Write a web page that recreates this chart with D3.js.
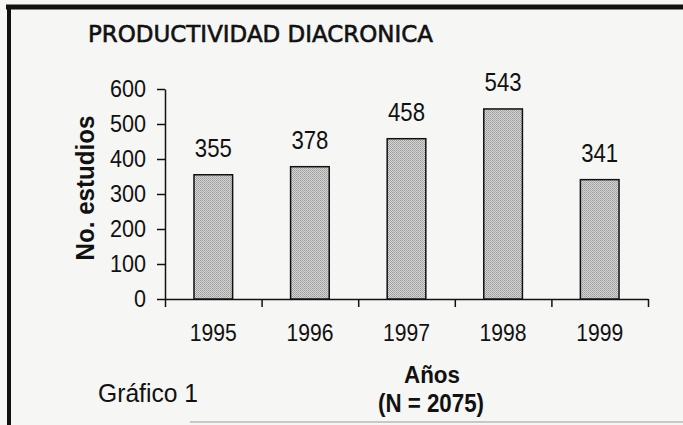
<!DOCTYPE html>
<html>
<head>
<meta charset="utf-8">
<script src="https://cdn.jsdelivr.net/npm/d3@7"></script>
<style>
  body { margin: 0; background: #f6f6f4; }
  text { fill: #111; }
</style>
</head>
<body>
<script>
var years = ["1995", "1996", "1997", "1998", "1999"];
var studies = [355, 378, 458, 543, 341];
var yTicks = [0, 100, 200, 300, 400, 500, 600];

var w = 683, h = 425;
var svg = d3.select("body").append("svg")
  .attr("width", w).attr("height", h);

// stipple fill for the bars
var defs = svg.append("defs");
var pat = defs.append("pattern").attr("id", "dots")
  .attr("width", 2).attr("height", 2).attr("patternUnits", "userSpaceOnUse");
pat.append("rect").attr("width", 2).attr("height", 2).attr("fill", "#d6d6d6");
pat.append("rect").attr("width", 1).attr("height", 1).attr("fill", "#9a9a9a");
pat.append("rect").attr("x", 1).attr("y", 1).attr("width", 1).attr("height", 1).attr("fill", "#a8a8a8");

svg.append("rect").attr("width", w).attr("height", h).attr("fill", "#f6f6f4");

// frame
svg.append("line").attr("x1", 6).attr("x2", w).attr("y1", 7).attr("y2", 7)
  .attr("stroke", "#111").attr("stroke-width", 5);
svg.append("line").attr("x1", 9).attr("x2", 9).attr("y1", 5).attr("y2", h)
  .attr("stroke", "#111").attr("stroke-width", 4);
svg.append("line").attr("x1", 190).attr("x2", w).attr("y1", 422).attr("y2", 422)
  .attr("stroke", "#9a9a9a").attr("stroke-width", 1.2);

var pLeft = 165, pRight = 648, pTop = 89, pBottom = 299;

var x = d3.scaleBand().domain(years).range([pLeft, pRight]).paddingInner(0.6).paddingOuter(0.3);
var xb = d3.scaleLinear().domain([0, years.length]).range([pLeft, pRight]);
var y = d3.scaleLinear().domain([0, 600]).range([pBottom, pTop]);

var numFont = "Liberation Sans, Arial, sans-serif";

// y axis
var ya = svg.append("g").attr("transform", "translate(" + pLeft + ",0)")
  .call(d3.axisLeft(y).tickValues(yTicks).tickSizeInner(8).tickSizeOuter(0).tickPadding(11));
ya.select(".domain").attr("stroke", "#111").attr("stroke-width", 1.5);
ya.selectAll(".tick line").attr("stroke", "#111").attr("stroke-width", 1.5);
ya.selectAll("text").attr("font-family", numFont)
  .attr("font-size", 23).attr("fill", "#111")
  .attr("textLength", function(d) { return String(d).length * 12; })
  .attr("lengthAdjust", "spacingAndGlyphs");

// x axis: ticks at band boundaries
var xt = svg.append("g").attr("transform", "translate(0," + pBottom + ")")
  .call(d3.axisBottom(xb).tickValues(d3.range(years.length + 1)).tickFormat("").tickSizeInner(8).tickSizeOuter(0));
xt.select(".domain").attr("stroke", "#111").attr("stroke-width", 1.5);
xt.selectAll(".tick line").attr("stroke", "#111").attr("stroke-width", 1.5);

// x labels
var xa = svg.append("g").attr("transform", "translate(0," + pBottom + ")")
  .call(d3.axisBottom(x).tickSize(0).tickPadding(25));
xa.select(".domain").remove();
xa.selectAll("text").attr("font-family", numFont)
  .attr("font-size", 24).attr("fill", "#111")
  .attr("textLength", 47).attr("lengthAdjust", "spacingAndGlyphs");

// bars
svg.selectAll(".bar").data(studies).enter().append("rect")
  .attr("class", "bar")
  .attr("x", function(d, i) { return x(years[i]); })
  .attr("width", x.bandwidth())
  .attr("y", function(d) { return y(d); })
  .attr("height", function(d) { return pBottom - y(d); })
  .attr("fill", "url(#dots)")
  .attr("stroke", "#111").attr("stroke-width", 1.5);

svg.selectAll(".val").data(studies).enter().append("text")
  .attr("class", "val")
  .attr("x", function(d, i) { return x(years[i]) + x.bandwidth() / 2; })
  .attr("y", function(d) { return y(d) - 18; })
  .attr("text-anchor", "middle")
  .attr("font-family", numFont)
  .attr("font-size", 25)
  .attr("textLength", 37).attr("lengthAdjust", "spacingAndGlyphs")
  .text(function(d) { return d; });

// title
svg.append("text").attr("x", 88).attr("y", 42)
  .attr("font-family", "DejaVu Sans, Verdana, sans-serif")
  .attr("font-size", 23)
  .attr("stroke", "#111").attr("stroke-width", 0.6)
  .attr("textLength", 345).attr("lengthAdjust", "spacingAndGlyphs")
  .text("PRODUCTIVIDAD DIACRONICA");

// y label
svg.append("text")
  .attr("transform", "translate(94,188) rotate(-90)")
  .attr("text-anchor", "middle")
  .attr("font-family", "Liberation Sans, Arial, sans-serif")
  .attr("font-size", 26).attr("font-weight", "bold")
  .attr("textLength", 145).attr("lengthAdjust", "spacingAndGlyphs")
  .text("No. estudios");

// x label
svg.append("text").attr("x", 432).attr("y", 383)
  .attr("text-anchor", "middle")
  .attr("font-family", "Liberation Sans, Arial, sans-serif")
  .attr("font-size", 23).attr("font-weight", "bold")
  .attr("textLength", 56).attr("lengthAdjust", "spacingAndGlyphs")
  .text("Años");
svg.append("text").attr("x", 431).attr("y", 412)
  .attr("text-anchor", "middle")
  .attr("font-family", numFont)
  .attr("font-size", 25).attr("font-weight", "bold")
  .attr("textLength", 106).attr("lengthAdjust", "spacingAndGlyphs")
  .text("(N = 2075)");

svg.append("text").attr("x", 98).attr("y", 402)
  .attr("font-family", "Liberation Sans, Arial, sans-serif")
  .attr("font-size", 25)
  .attr("textLength", 100).attr("lengthAdjust", "spacingAndGlyphs")
  .text("Gráfico 1");
</script>
</body>
</html>
